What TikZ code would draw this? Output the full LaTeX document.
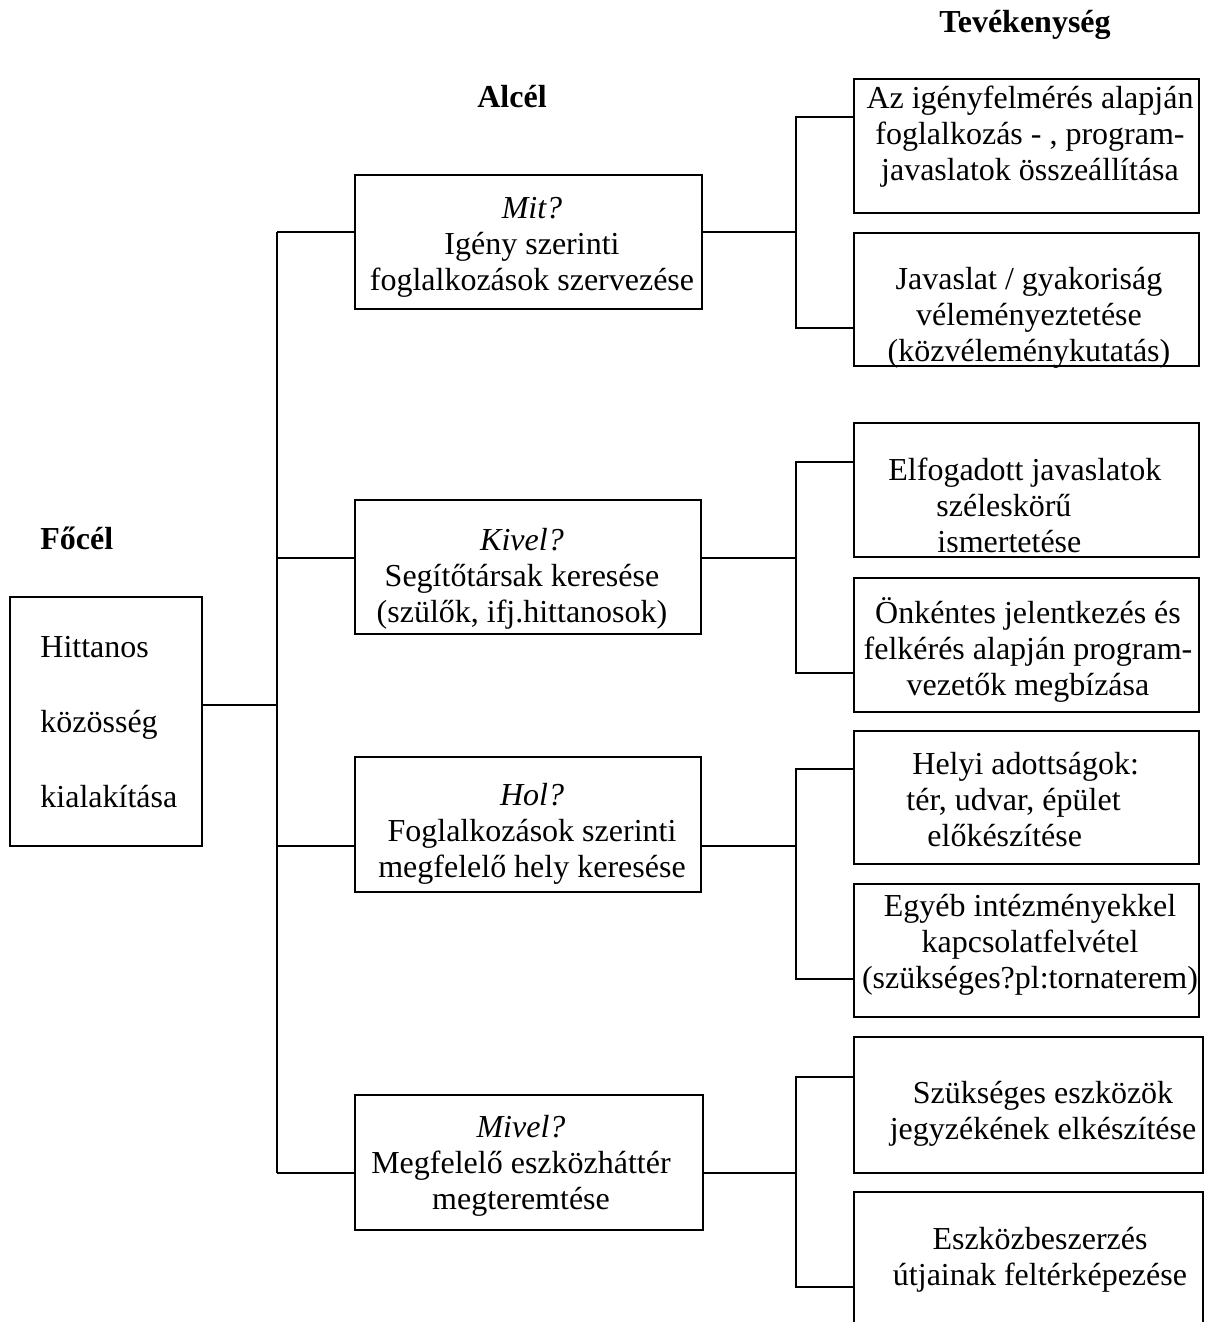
\documentclass[tikz,border=0pt]{standalone}
\usepackage{fontspec}
\setmainfont{Liberation Serif}
\usetikzlibrary{fit}
\begin{document}
\begin{tikzpicture}[x=0.5pt,y=-0.5pt,
  box/.style={draw, line width=1pt, inner sep=0pt, outer sep=0pt},
  txt/.style={font=\fontsize{16}{18}\selectfont, inner sep=0pt, align=center},
  head/.style={font=\fontsize{16}{18}\selectfont\bfseries, inner sep=0pt},
  conn/.style={line width=1pt}]
\useasboundingbox (0,0) rectangle (1207,1322);
\clip (0,0) rectangle (1207,1322);

% headers
\node[head] (hteve) at (1025,25) {Tevékenység};
\node[head] (halcel) at (512,97) {Alcél};
\node[head, anchor=west] (hfocel) at (40,538) {Főcél};

% boxes
\node[box, fit={(10,597) (202,846)}] (focel) {};
\node[box, fit={(355,175) (702,309)}] (mit) {};
\node[box, fit={(355,500) (701,634)}] (kivel) {};
\node[box, fit={(355,757) (701,892)}] (hol) {};
\node[box, fit={(355,1095) (703,1230)}] (mivel) {};
\node[box, fit={(854,79) (1199,213)}] (a1) {};
\node[box, fit={(854,233) (1199,366)}] (a2) {};
\node[box, fit={(854,423) (1199,557)}] (b1) {};
\node[box, fit={(854,578) (1199,712)}] (b2) {};
\node[box, fit={(854,731) (1199,864)}] (c1) {};
\node[box, fit={(854,884) (1199,1017)}] (c2) {};
\node[box, fit={(854,1037) (1203,1173)}] (d1) {};
\node[box, fit={(854,1192) (1203,1345)}] (d2) {};

% texts
\node[txt, align=left, anchor=west, font=\fontsize{16}{37.5}\selectfont] (tfocel) at (40,722) {Hittanos\\közösség\\kialakítása};
\node[txt] (tmit) at (532,247) {\textit{Mit?}\\Igény szerinti\\foglalkozások szervezése};
\node[txt] (tkivel) at (522,579) {\textit{Kivel?}\\Segítőtársak keresése\\(szülők, ifj.hittanosok)};
\node[txt] (thol) at (532,834) {\textit{Hol?}\\Foglalkozások szerinti\\megfelelő hely keresése};
\node[txt] (tmivel) at (521,1166) {\textit{Mivel?}\\Megfelelő eszközháttér\\megteremtése};
\node[txt] (ta1) at (1030,137) {Az igényfelmérés alapján\\foglalkozás - , program-\\javaslatok összeállítása};
\node[txt] (ta2) at (1029,318) {Javaslat / gyakoriság\\véleményeztetése\\(közvéleménykutatás)};
\node[txt, align=left, anchor=west] (tb1) at (888,505) {Elfogadott javaslatok\\\hspace*{24pt}széleskörű\\\hspace*{24.5pt}ismertetése};
\node[txt] (tb2) at (1028,650) {Önkéntes jelentkezés és\\felkérés alapján program-\\vezetők megbízása};
\node[txt, align=left, anchor=west] (tc1) at (906,800) {\hspace*{3pt}Helyi adottságok:\\tér, udvar, épület\\\hspace*{10.5pt}előkészítése};
\node[txt] (tc2) at (1030,945) {Egyéb intézményekkel\\kapcsolatfelvétel\\(szükséges?pl:tornaterem)};
\node[txt] (td1) at (1043,1114) {Szükséges eszközök\\jegyzékének elkészítése};
\node[txt] (td2) at (1040,1260) {Eszközbeszerzés\\útjainak feltérképezése};

% junctions
\coordinate (jf) at (277,705);
\coordinate (jmit) at (277,232);
\coordinate (jkiv) at (277,558);
\coordinate (jhol) at (277,846);
\coordinate (jmiv) at (277,1173);

\coordinate (ka) at (796,232);
\coordinate (ka1) at (796,117);
\coordinate (ka2) at (796,328);
\coordinate (kb) at (796,558);
\coordinate (kb1) at (796,462);
\coordinate (kb2) at (796,673);
\coordinate (kc) at (796,846);
\coordinate (kc1) at (796,769);
\coordinate (kc2) at (796,979);
\coordinate (kd) at (796,1173);
\coordinate (kd1) at (796,1077);
\coordinate (kd2) at (796,1287);

% connectors: main level
\draw[conn] (jf -| focel.east) -- (jf);
\draw[conn] (jmit) -- (jmiv);
\draw[conn] (jmit) -- (jmit -| mit.west);
\draw[conn] (jkiv) -- (jkiv -| kivel.west);
\draw[conn] (jhol) -- (jhol -| hol.west);
\draw[conn] (jmiv) -- (jmiv -| mivel.west);

% connectors: activity level
\draw[conn] (ka -| mit.east) -- (ka);
\draw[conn] (ka1 -| a1.west) -- (ka1) -- (ka2) -- (ka2 -| a2.west);
\draw[conn] (kb -| kivel.east) -- (kb);
\draw[conn] (kb1 -| b1.west) -- (kb1) -- (kb2) -- (kb2 -| b2.west);
\draw[conn] (kc -| hol.east) -- (kc);
\draw[conn] (kc1 -| c1.west) -- (kc1) -- (kc2) -- (kc2 -| c2.west);
\draw[conn] (kd -| mivel.east) -- (kd);
\draw[conn] (kd1 -| d1.west) -- (kd1) -- (kd2) -- (kd2 -| d2.west);
\end{tikzpicture}
\end{document}
